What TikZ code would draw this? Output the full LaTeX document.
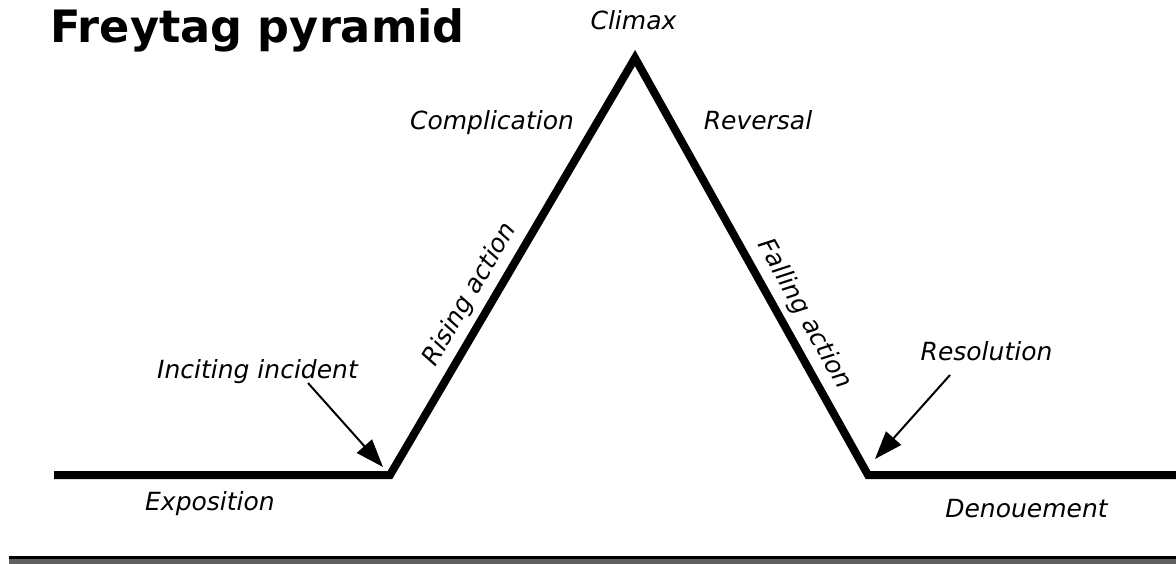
\documentclass[tikz,border=0pt]{standalone}
\usepackage{fontspec}
\setmainfont{DejaVu Sans}
\usetikzlibrary{arrows.meta}
\definecolor{bargray}{RGB}{96,96,96}
\begin{document}
\begin{tikzpicture}[x=1pt,y=-1pt,
  lbl/.style={font=\fontsize{25}{30}\selectfont\itshape, inner sep=0pt, anchor=base},
  plotline/.style={line width=8pt, line join=miter, miter limit=10},
  pointer/.style={line width=2pt, -{Triangle[length=28pt,width=20pt]}}]
\useasboundingbox (0,0) rectangle (1176,564);
% bottom bar
\fill[black] (9,556) rectangle (1176,559);
\fill[bargray] (9,559) rectangle (1176,564);
% pyramid
\coordinate (start) at (54,475);
\coordinate (incv) at (390,475);
\coordinate (peak) at (635,58);
\coordinate (resv) at (868,475);
\coordinate (finish) at (1180,475);
\draw[plotline] (start) -- (incv) -- (peak) -- (resv) -- (finish);
% title
\node[font=\fontsize{44.6}{50}\selectfont\bfseries, inner sep=0pt, anchor=base west] (title) at (50,43) {Freytag pyramid};
% labels
\node[lbl] (climax) at (633.5,30) {Climax};
\node[lbl] (compl) at (492,130) {Complication};
\node[lbl] (rev) at (758,130) {Reversal};
\node[lbl] (incit) at (257.5,378) {Inciting incident};
\node[lbl] (resol) at (986.5,360) {Resolution};
\node[lbl] (expo) at (210,510) {Exposition};
\node[lbl] (denou) at (1026.5,517) {Denouement};
\node[lbl, anchor=center, rotate=59.6] (rising) at (470,295) {Rising action};
\node[lbl, anchor=center, rotate=-60.8] (falling) at (804,314) {Falling action};
% pointers
\coordinate (incA) at (308,383);
\coordinate (incT) at (383,467);
\coordinate (resA) at (950,375);
\coordinate (resT) at (875,459);
\draw[pointer] (incA) -- (incT);
\draw[pointer] (resA) -- (resT);
\end{tikzpicture}
\end{document}
